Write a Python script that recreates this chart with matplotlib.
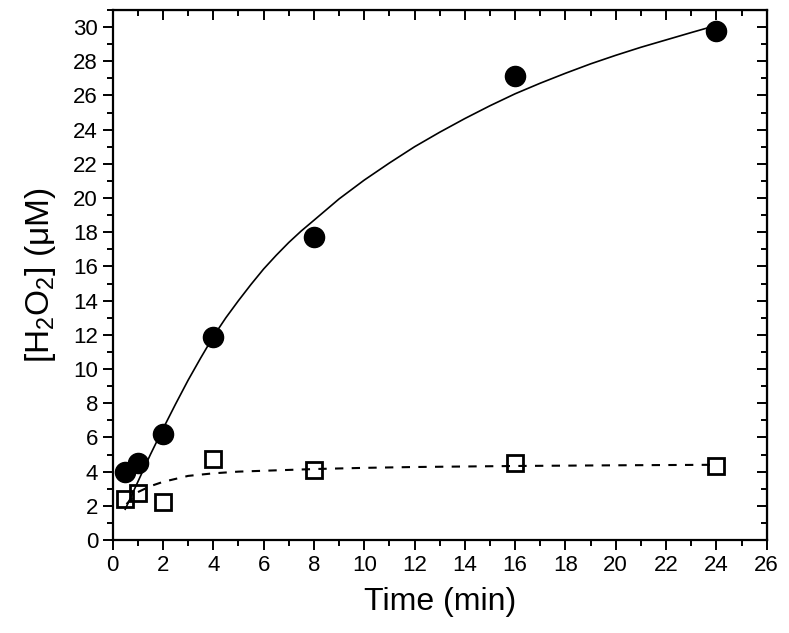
import matplotlib
matplotlib.use("Agg")
import matplotlib.pyplot as plt
from matplotlib.ticker import MultipleLocator

plt.rcParams["font.family"] = ["Liberation Sans", "DejaVu Sans"]
plt.rcParams["mathtext.default"] = "regular"

# measured points
time_pts = [0.5, 1, 2, 4, 8, 16, 24]
h2o2_filled = [4.0, 4.5, 6.2, 11.9, 17.75, 27.15, 29.75]
h2o2_open = [2.4, 2.75, 2.25, 4.75, 4.1, 4.5, 4.3]

# fitted curves
fit_t = [0.5, 1, 1.5, 2, 2.5, 3, 3.5, 4, 4.5, 5, 5.5, 6, 6.5, 7, 7.5, 8, 9,
         10, 11, 12, 13, 14, 15, 16, 17, 18, 19, 20, 21, 22, 23, 24]
fit_filled = [1.8, 3.4, 5.0, 6.5, 7.95, 9.35, 10.65, 11.9, 13.0, 14.0,
              14.95, 15.85, 16.65, 17.4, 18.08, 18.7, 19.95, 21.05, 22.05,
              23.0, 23.85, 24.65, 25.4, 26.1, 26.72, 27.3, 27.85, 28.35,
              28.82, 29.25, 29.68, 30.1]
fit_open_t = [0.55, 1, 1.5, 2, 3, 4, 5, 6, 8, 10, 12, 16, 20, 24]
fit_open = [2.1, 2.8, 3.15, 3.4, 3.75, 3.9, 4.0, 4.05, 4.15, 4.22, 4.27,
            4.33, 4.37, 4.4]

fig = plt.figure(figsize=(7.89, 6.33), dpi=100)
ax = fig.add_axes([0.1428, 0.1469, 0.9717 - 0.1428, 0.9842 - 0.1469])

ax.plot(fit_t, fit_filled, "-", color="black", lw=1.2, zorder=2)
ax.plot(fit_open_t, fit_open, color="black", lw=1.5, dashes=(4, 4), zorder=2)
ax.plot(time_pts, h2o2_filled, "o", color="black", ms=14.5, zorder=3)
ax.plot(time_pts, h2o2_open, "s", mfc="none", mec="black", mew=2.0,
        ms=11, zorder=3)

ax.set_xlim(0, 26)
ax.set_ylim(0, 31)
ax.xaxis.set_major_locator(MultipleLocator(2))
ax.xaxis.set_minor_locator(MultipleLocator(1))
ax.yaxis.set_major_locator(MultipleLocator(2))
ax.yaxis.set_minor_locator(MultipleLocator(1))

for s in ax.spines.values():
    s.set_linewidth(1.6)

ax.tick_params(which="both", direction="out", bottom=True, left=True,
               top=False, right=False, width=1.4, labelsize=16)
ax.tick_params(which="major", length=7)
ax.tick_params(which="minor", length=4)

# inward ticks on top and right, no labels
axt = ax.secondary_xaxis("top")
axt.xaxis.set_major_locator(MultipleLocator(2))
axt.xaxis.set_minor_locator(MultipleLocator(1))
axt.tick_params(which="both", direction="in", width=1.4, labeltop=False)
axt.tick_params(which="major", length=7)
axt.tick_params(which="minor", length=4)
axr = ax.secondary_yaxis("right")
axr.yaxis.set_major_locator(MultipleLocator(2))
axr.yaxis.set_minor_locator(MultipleLocator(1))
axr.tick_params(which="both", direction="in", width=1.4, labelright=False)
axr.tick_params(which="major", length=7)
axr.tick_params(which="minor", length=4)

ax.set_xlabel("Time (min)", fontsize=23, labelpad=8)
ax.set_ylabel("[H$_2$O$_2$] (μM)", fontsize=24, labelpad=11)

fig.savefig("out.png", dpi=100)
